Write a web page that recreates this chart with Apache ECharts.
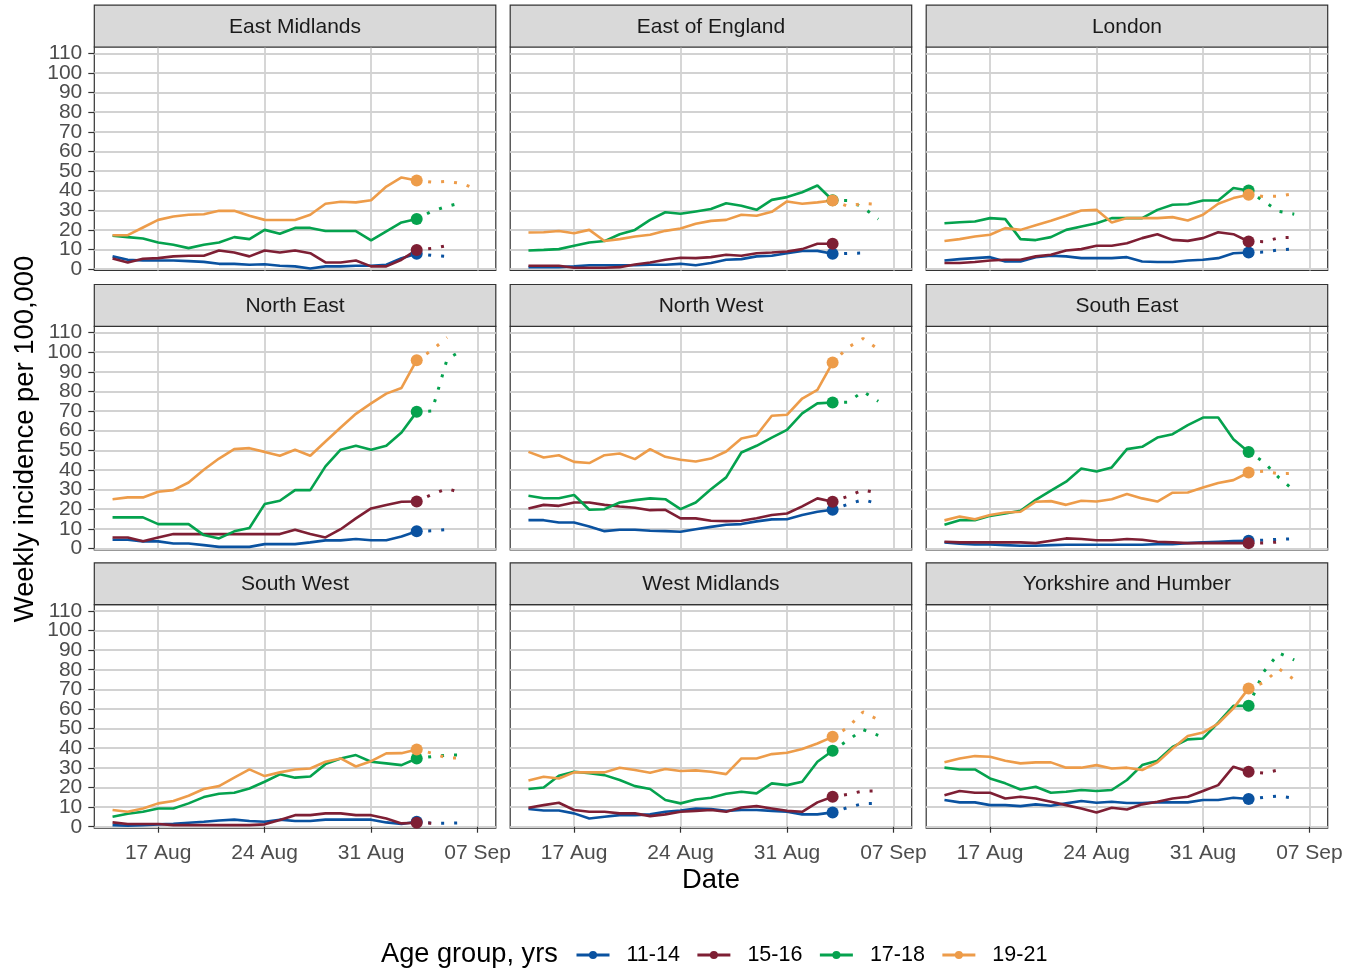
<!DOCTYPE html>
<html>
<head>
<meta charset="utf-8">
<title>Weekly incidence by region and age group</title>
<script src="https://cdn.jsdelivr.net/npm/echarts@6/dist/echarts.min.js"></script>
<style>
  html, body { margin: 0; padding: 0; background: #ffffff; }
  #chart { width: 1348px; height: 971px; }
</style>
</head>
<body>
<div id="chart"></div>
<script>
// ---- data -------------------------------------------------------------
const regions = ['East Midlands', 'East of England', 'London',
                 'North East', 'North West', 'South East',
                 'South West', 'West Midlands', 'Yorkshire and Humber'];
const ageGroups = ['11-14', '15-16', '17-18', '19-21'];

// complete days (solid lines), 14 Aug - 3 Sep 2021
const dates = ['2021-08-14', '2021-08-15', '2021-08-16', '2021-08-17', '2021-08-18',
               '2021-08-19', '2021-08-20', '2021-08-21', '2021-08-22', '2021-08-23',
               '2021-08-24', '2021-08-25', '2021-08-26', '2021-08-27', '2021-08-28',
               '2021-08-29', '2021-08-30', '2021-08-31', '2021-09-01', '2021-09-02',
               '2021-09-03'];
// incomplete days (dotted lines)
const provisionalDates = ['2021-09-04', '2021-09-05', '2021-09-06', '2021-09-07'];

const xTickDates = ['2021-08-17', '2021-08-24', '2021-08-31', '2021-09-07'];
const xTickLabels = ['17 Aug', '24 Aug', '31 Aug', '07 Sep'];
const yTicks = [0, 10, 20, 30, 40, 50, 60, 70, 80, 90, 100, 110];

// weekly incidence per 100,000, one row per age group (11-14, 15-16, 17-18, 19-21)
const eastMidlands = [
  [6.5, 4.8, 4.4, 4.4, 4.4, 4.1, 3.7, 2.7, 2.7, 2.2, 2.5, 1.7, 1.4, 0.3, 1.4, 1.4, 1.7, 1.7, 2.2, 5.6, 7.8],
  [5.4, 3.4, 5.3, 5.6, 6.5, 6.8, 6.8, 9.5, 8.5, 6.5, 9.5, 8.5, 9.5, 8.1, 3.4, 3.4, 4.4, 1.4, 1.4, 4.8, 9.8],
  [17, 16.3, 15.6, 13.6, 12.4, 10.7, 12.4, 13.6, 16.3, 15.3, 20, 18, 21, 21, 19.4, 19.4, 19.4, 14.6, 19.2, 23.8, 25.6],
  [17.3, 17.3, 21.2, 25.1, 26.8, 27.7, 28, 29.7, 29.7, 27.2, 25.1, 25, 25, 27.7, 33.3, 34.3, 34, 35.1, 42.1, 46.7, 45.2]
];
const eastOfEngland = [
  [1, 1, 1, 1.4, 2, 2, 2, 2, 2.2, 2.2, 2.7, 2, 3.1, 4.8, 5.1, 6.5, 6.8, 8.1, 9.2, 9.3, 7.8],
  [1.7, 1.7, 1.7, 0.7, 0.7, 0.7, 1, 2.4, 3.4, 4.8, 5.8, 5.6, 6.1, 7.3, 6.8, 8.1, 8.5, 9, 10.2, 12.9, 12.9],
  [9.5, 9.8, 10.2, 11.9, 13.6, 14.3, 17.8, 20, 25.1, 29, 28.2, 29.4, 30.6, 33.6, 32.3, 30.2, 35.3, 36.7, 39.2, 42.6, 35.1],
  [18.7, 18.8, 19.4, 18.3, 20, 14.3, 15.3, 16.6, 17.5, 19.5, 20.7, 23.1, 24.6, 25.1, 27.7, 27.2, 29.2, 34.5, 33.3, 34, 35]
];
const london = [
  [4.4, 5.1, 5.6, 6.1, 3.9, 3.9, 6.1, 6.8, 6.5, 5.6, 5.6, 5.6, 6.1, 3.9, 3.6, 3.6, 4.4, 4.8, 5.6, 8.1, 8.5],
  [3.1, 3.1, 3.6, 4.4, 4.8, 4.8, 6.5, 7.3, 9.5, 10.2, 11.9, 11.9, 13.2, 15.8, 17.8, 14.9, 14.4, 15.8, 18.8, 17.8, 14.1],
  [23.4, 23.9, 24.3, 26, 25.5, 15.3, 14.8, 16.3, 20, 21.7, 23.4, 26, 26, 26, 30.2, 32.8, 33.1, 35, 35, 41.3, 40.1],
  [14.3, 15.3, 16.6, 17.5, 20.9, 20, 22.4, 24.6, 27.2, 29.9, 30.2, 23.8, 26, 26, 26, 26.5, 24.8, 27.7, 33.3, 36.2, 37.9]
];
const northEast = [
  [4.4, 4.4, 3.6, 3.6, 2.5, 2.5, 1.7, 0.8, 0.8, 0.8, 2.2, 2.2, 2.2, 3.1, 4.1, 4.1, 4.8, 4.2, 4.2, 6.1, 8.7],
  [5.6, 5.6, 3.6, 5.6, 7.3, 7.3, 7.3, 7.3, 7.3, 7.3, 7.3, 7.3, 9.5, 7.3, 5.6, 9.8, 15.3, 20.4, 22.1, 23.8, 23.9],
  [15.8, 15.8, 15.8, 12.4, 12.4, 12.4, 6.8, 5.1, 8.7, 10.4, 22.6, 24.3, 29.7, 29.7, 41.8, 50.3, 52.3, 50.3, 52.3, 59.1, 69.6],
  [25.1, 26, 26, 28.9, 29.7, 33.6, 40.1, 45.8, 50.6, 51.1, 49.2, 47.2, 50.3, 47.2, 54.5, 61.6, 68.6, 73.9, 78.9, 81.8, 95.9]
];
const northWest = [
  [14.4, 14.4, 13.2, 13.2, 11.2, 8.8, 9.5, 9.5, 9, 8.8, 8.5, 9.8, 11, 12.1, 12.4, 13.8, 14.8, 14.9, 17, 18.7, 19.7],
  [20.4, 22.2, 21.7, 23.4, 23.4, 22.2, 21.4, 20.7, 19.5, 19.7, 15.3, 15.3, 14.1, 13.9, 14.1, 15.4, 17, 17.8, 21.4, 25.5, 23.8],
  [26.8, 25.6, 25.6, 27.2, 19.7, 20, 23.4, 24.6, 25.5, 25.1, 20, 23.4, 30.2, 36.2, 48.9, 52.3, 56.5, 60.4, 68.8, 73.9, 74.4],
  [49.2, 46.3, 47.5, 44.1, 43.5, 47.5, 48.4, 45.5, 50.6, 46.7, 45.2, 44.3, 45.8, 49.4, 56, 57.7, 67.6, 68.1, 76.4, 80.8, 94.7]
];
const southEast = [
  [3.1, 2.4, 2, 2, 1.7, 1.4, 1.4, 1.7, 1.9, 1.9, 1.9, 1.9, 1.9, 1.9, 2.2, 2.2, 2.7, 3.1, 3.4, 3.7, 3.9],
  [3.4, 3.1, 3.1, 3.1, 3.1, 3.1, 2.7, 3.9, 5.1, 4.8, 4.2, 4.2, 4.8, 4.4, 3.4, 3.1, 2.7, 2.7, 2.7, 2.7, 2.7],
  [12.1, 14.4, 14.4, 16.6, 17.8, 19.2, 24.8, 29.4, 34, 40.7, 39.2, 41.3, 50.6, 51.8, 56.5, 58.2, 62.8, 66.7, 66.7, 55.7, 49.2],
  [14.3, 16.3, 14.9, 17, 18.3, 18.7, 23.8, 24.1, 22.2, 24.3, 23.9, 25.1, 27.7, 25.5, 23.9, 28.4, 28.5, 31.1, 33.3, 34.8, 38.7]
];
const southWest = [
  [0.8, 0.5, 0.8, 1.2, 1.5, 2, 2.5, 3.2, 3.6, 2.9, 2.5, 3.6, 2.9, 2.9, 3.6, 3.6, 3.6, 3.6, 2.2, 1.4, 2.5],
  [2.2, 1.4, 1.4, 1.4, 0.8, 0.8, 0.8, 0.8, 0.8, 0.8, 1.2, 3.4, 5.9, 5.9, 6.8, 6.8, 5.9, 5.9, 4.2, 1.7, 2],
  [5.1, 6.6, 7.6, 9.3, 9.3, 11.9, 15.1, 16.8, 17.3, 19.5, 22.9, 26.7, 25, 25.6, 31.9, 34.8, 36.5, 33.1, 32.3, 31.4, 34.8],
  [8.5, 7.6, 9.3, 11.9, 13.1, 15.8, 19.2, 20.7, 25, 29.2, 25.8, 27.7, 29.2, 29.7, 33.1, 34.8, 30.7, 33.4, 37.4, 37.5, 39.4]
];
const westMidlands = [
  [9, 8.3, 8.3, 6.8, 4.2, 5.1, 5.9, 5.9, 6.3, 7.6, 8.3, 9.3, 9, 8.1, 8.5, 8.5, 8.1, 7.6, 6.3, 6.3, 7.3],
  [9.7, 11, 12.2, 8.5, 7.6, 7.6, 6.8, 6.8, 5.4, 6.3, 7.6, 8.1, 8.5, 7.6, 9.8, 10.5, 9.3, 8.1, 7.6, 12.4, 15.3],
  [19.2, 20, 26, 28, 27.3, 26.3, 23.8, 20.7, 19.2, 13.6, 11.9, 13.9, 14.8, 16.8, 17.8, 17, 22.1, 21.2, 22.9, 33.1, 38.7],
  [23.6, 25.5, 24.6, 27.7, 27.7, 27.7, 30.1, 28.9, 27.5, 29.4, 28.4, 28.7, 28, 26.8, 34.8, 34.8, 37, 37.7, 39.6, 42.4, 45.8]
];
const yorkshireHumber = [
  [13.6, 12.4, 12.4, 11, 11, 10.5, 11.4, 10.7, 11.9, 13.1, 12.2, 12.7, 12.1, 12.1, 12.4, 12.4, 12.4, 13.6, 13.6, 14.8, 14.1],
  [16.1, 18.2, 17.3, 17.3, 14.4, 15.3, 14.4, 12.7, 11, 9.3, 7.3, 9.7, 8.8, 11.4, 12.7, 14.4, 15.3, 18.2, 21.2, 30.6, 28],
  [30.1, 29.2, 29.2, 24.6, 22.1, 19, 20.4, 17.3, 17.8, 18.7, 18.2, 18.7, 23.8, 31.4, 33.6, 40.7, 44.5, 45, 53.1, 61.6, 61.6],
  [32.8, 34.8, 36, 35.7, 33.6, 32.3, 32.8, 32.8, 30.1, 30.1, 31.4, 29.7, 30.1, 28.9, 32.8, 39.9, 46.2, 48, 52.6, 60.3, 70.5]
];

// provisional values for 4-7 Sep (null where no value is shown)
const eastMidlandsProv = [
  [7, 6.5, null, null], [10.5, 12, null, null], [29.5, 32, 34, null], [44.3, 44.7, 43.6, 40.5]
];
const eastOfEnglandProv = [
  [8, 8.2, null, null], [null, null, null, null], [35, 31.5, 25.5, null], [32, 33.5, 33, null]
];
const londonProv = [
  [8.7, 9.8, 10.3, null], [14, 16, 16.2, null], [34.5, 29.4, 28, null], [37, 37.2, 38.5, null]
];
const northEastProv = [
  [9, 9.6, null, null], [27.5, 30.5, 28.2, null], [70, 96.5, 101, null], [101, 107.5, null, null]
];
const northWestProv = [
  [22.5, 24.8, 22.8, null], [26.5, 29.8, 28.2, null], [74.5, 80, 75, null], [102.4, 107, 101.5, null]
];
const southEastProv = [
  [4.2, 4.7, 4.8, null], [2.8, 3.3, null, null], [44, 36, 29.5, null], [39.3, 38, 38.3, null]
];
const southWestProv = [
  [1.8, 1.8, 2, null], [1.8, null, null, null], [35.7, 36.5, 36.5, null], [37.5, 35, 35, null]
];
const westMidlandsProv = [
  [9.8, 11.8, 11.9, null], [16.5, 18.2, 18.3, null], [44, 49.5, 46.6, null], [50.5, 58.5, 54.5, null]
];
const yorkshireHumberProv = [
  [15, 15.6, 14.5, null], [27.3, 29, null, null], [79, 88.5, 85, null], [73.5, 80.5, 75, null]
];

const observed = [eastMidlands, eastOfEngland, london, northEast, northWest,
                  southEast, southWest, westMidlands, yorkshireHumber];
const provisional = [eastMidlandsProv, eastOfEnglandProv, londonProv, northEastProv, northWestProv,
                     southEastProv, southWestProv, westMidlandsProv, yorkshireHumberProv];

const groupColors = ['#0A52A0', '#7E1F34', '#05A24E', '#ED9C4A'];

// ---- layout -------------------------------------------------------------
const FONT = '"Liberation Sans", Arial, Helvetica, sans-serif';
const colLeft = [94.3, 510.2, 926.2];
const rowTop = [47, 326.3, 604.6];
const panelW = 401.5;
const panelH = 223.5;
const stripH = 41.8;
const yMin = -0.7, yMax = 113.2;

const ts = d => Date.parse(d + 'T00:00:00Z');
const firstDay = ts(dates[0]);
const lastDay = ts(provisionalDates[provisionalDates.length - 1]);
const xPad = 0.05 * (lastDay - firstDay);
const xMin = firstDay - xPad, xMax = lastDay + xPad;
const xTickValues = xTickDates.map(ts);

// The y labels sit closer together than their text height, so they are split
// over two stacked axes per panel (0, 20, ... and 10, 30, ...) to keep every one shown.
const yTickSets = [yTicks.filter((v, i) => i % 2 === 0), yTicks.filter((v, i) => i % 2 === 1)];

const grids = [], xAxes = [], yAxes = [], series = [], graphics = [];

regions.forEach((region, p) => {
  const row = Math.floor(p / 3), col = p % 3;
  const left = colLeft[col], top = rowTop[row];
  grids.push({
    left: left, top: top, width: panelW, height: panelH,
    show: true, backgroundColor: '#ffffff', borderColor: '#333333', borderWidth: 1.2
  });
  const isBottom = row === 2, isLeft = col === 0;
  // dates are plotted as UTC milliseconds on a linear axis
  xAxes.push({
    type: 'value', gridIndex: p, min: xMin, max: xMax,
    axisLine: { show: false },
    axisTick: { show: isBottom, length: 6, lineStyle: { color: '#333333', width: 1.2 },
                customValues: xTickValues },
    axisLabel: {
      show: isBottom, customValues: xTickValues, margin: 15,
      showMinLabel: true, showMaxLabel: true, hideOverlap: false,
      fontFamily: FONT, fontSize: 21, color: '#4D4D4D',
      formatter: v => {
        const i = xTickValues.indexOf(v);
        return i >= 0 ? xTickLabels[i] : '';
      }
    },
    splitLine: { show: true, lineStyle: { color: '#D2D2D2', width: 1.8 } }
  });
  yTickSets.forEach(ticks => {
    yAxes.push({
      type: 'value', gridIndex: p, position: 'left', offset: 0, min: yMin, max: yMax,
      axisLine: { show: false },
      axisTick: { show: isLeft, length: 6, lineStyle: { color: '#333333', width: 1.2 },
                  customValues: ticks },
      axisLabel: {
        show: isLeft, customValues: ticks, margin: 12,
        showMinLabel: true, showMaxLabel: true, hideOverlap: false,
        fontFamily: FONT, fontSize: 21, color: '#4D4D4D'
      },
      splitLine: { show: true, lineStyle: { color: '#D2D2D2', width: 1.8 } }
    });
  });
  const yIdx = 2 * p;

  // facet strip
  graphics.push({
    type: 'rect', shape: { x: left, y: top - stripH, width: panelW, height: stripH },
    style: { fill: '#D9D9D9', stroke: '#333333', lineWidth: 1.2 }, silent: true, z: 10
  });
  graphics.push({
    type: 'text', x: left + panelW / 2, y: top - stripH / 2 + 1, silent: true, z: 11,
    style: { text: region, font: '21px ' + FONT, fill: '#1A1A1A',
             textAlign: 'center', textVerticalAlign: 'middle' }
  });

  const obs = observed[p], prov = provisional[p];
  const lastIdx = dates.length - 1;

  // solid lines for complete days
  ageGroups.forEach((g, k) => {
    series.push({
      type: 'line', name: g, xAxisIndex: p, yAxisIndex: yIdx,
      data: dates.map((d, i) => [ts(d), obs[k][i]]),
      symbol: 'circle', showSymbol: false, silent: true, animation: false,
      lineStyle: { color: groupColors[k], width: 2.6 },
      itemStyle: { color: groupColors[k] }, z: 2
    });
  });
  // dotted lines for provisional days, starting at the last complete day
  ageGroups.forEach((g, k) => {
    if (prov[k].every(v => v === null)) return;
    const pts = [[ts(dates[lastIdx]), obs[k][lastIdx]]];
    provisionalDates.forEach((d, i) => { if (prov[k][i] !== null) pts.push([ts(d), prov[k][i]]); });
    series.push({
      type: 'line', name: g, xAxisIndex: p, yAxisIndex: yIdx, data: pts,
      symbol: 'none', silent: true, animation: false,
      lineStyle: { color: groupColors[k], width: 3, type: [3, 10], dashOffset: 1.5, cap: 'butt' },
      itemStyle: { color: groupColors[k] }, z: 3
    });
  });
  // marker on the last complete day
  ageGroups.forEach((g, k) => {
    series.push({
      type: 'scatter', name: g, xAxisIndex: p, yAxisIndex: yIdx,
      data: [[ts(dates[lastIdx]), obs[k][lastIdx]]],
      symbol: 'circle', symbolSize: 12, silent: true, animation: false,
      itemStyle: { color: groupColors[k], opacity: 1 }, z: 4
    });
  });
});

// axis titles
graphics.push({
  type: 'text', x: 25, y: 439, rotation: Math.PI / 2, silent: true,
  style: { text: 'Weekly incidence per 100,000', font: '27.4px ' + FONT, fill: '#000000',
           textAlign: 'center', textVerticalAlign: 'middle' }
});
graphics.push({
  type: 'text', x: 711, y: 880, silent: true,
  style: { text: 'Date', font: '27.4px ' + FONT, fill: '#000000',
           textAlign: 'center', textVerticalAlign: 'middle' }
});
graphics.push({
  type: 'text', x: 381, y: 955, silent: true,
  style: { text: 'Age group, yrs', font: '27.2px ' + FONT, fill: '#000000',
           textAlign: 'left', textVerticalAlign: 'middle' }
});

const chart = echarts.init(document.getElementById('chart'), null, { renderer: 'canvas' });
chart.setOption({
  backgroundColor: '#ffffff',
  animation: false,
  textStyle: { fontFamily: FONT },
  grid: grids,
  xAxis: xAxes,
  yAxis: yAxes,
  series: series,
  graphic: graphics,
  legend: {
    data: ageGroups,
    left: 570, top: 939,
    orient: 'horizontal',
    itemWidth: 33, itemHeight: 10, itemGap: 16,
    selectedMode: false,
    lineStyle: { width: 3 },
    textStyle: { fontFamily: FONT, fontSize: 21.5, color: '#000000', padding: [0, 0, 0, 12] }
  }
});
</script>
</body>
</html>
